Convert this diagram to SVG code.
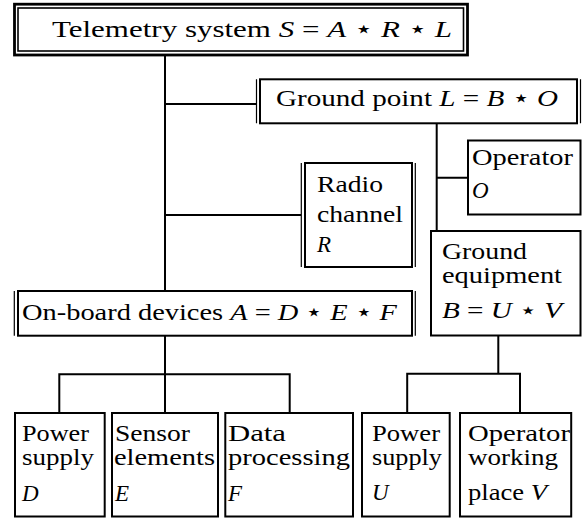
<svg xmlns="http://www.w3.org/2000/svg" width="587" height="518" viewBox="0 0 587 518">
<style>
.box{fill:#fff;stroke:#000;stroke-width:2}
.thin{stroke:#000;stroke-width:1.2;fill:none}
.conn{stroke:#000;stroke-width:2;fill:none}
.i{font-style:italic}
</style>
<rect width="587" height="518" fill="#fff"/>
<g id="connectors">
<path class="conn" d="M165 56V291M165 104H256.5M165 215H301M436.7 123V231M436.7 177.7H468M165 336V374.3M59.3 413V374.3H289.7V413M165 374.3V413M498.3 336V373.7M407.2 413V373.7H520V413"/>
</g>
<g id="telemetry">
<rect x="14.5" y="4.2" width="453" height="50.8" fill="#fff" stroke="#000" stroke-width="2.8"/>
<rect x="18" y="8" width="445.5" height="43" fill="none" stroke="#000" stroke-width="1.6"/>
<text x="52" y="37" font-family="Liberation Serif" font-size="24" textLength="400" lengthAdjust="spacingAndGlyphs">Telemetry system <tspan class="i">S</tspan> = <tspan class="i">A</tspan> ⋆ <tspan class="i">R</tspan> ⋆ <tspan class="i">L</tspan></text>
</g>
<g id="ground-point">
<rect class="box" x="260" y="79.3" width="317" height="44"/>
<path class="thin" d="M256.5 79.3V123.3M580.5 79.3V123.3"/>
<text x="276" y="106" font-family="Liberation Serif" font-size="24" textLength="282" lengthAdjust="spacingAndGlyphs">Ground point <tspan class="i">L</tspan> = <tspan class="i">B</tspan> ⋆ <tspan class="i">O</tspan></text>
</g>
<g id="operator">
<rect class="box" x="468" y="140.5" width="112.5" height="74"/>
<text x="472" y="165" font-family="Liberation Serif" font-size="23" textLength="101" lengthAdjust="spacingAndGlyphs">Operator</text>
<text x="472" y="198" font-family="Liberation Serif" font-size="23" font-style="italic">O</text>
</g>
<g id="radio-channel">
<rect class="box" x="305" y="163" width="107" height="104"/>
<path class="thin" d="M301.3 163V267M415.3 163V267"/>
<text x="317" y="192" font-family="Liberation Serif" font-size="23" textLength="66" lengthAdjust="spacingAndGlyphs">Radio</text>
<text x="317" y="222" font-family="Liberation Serif" font-size="23" textLength="86" lengthAdjust="spacingAndGlyphs">channel</text>
<text x="317" y="252" font-family="Liberation Serif" font-size="23" font-style="italic">R</text>
</g>
<g id="ground-equipment">
<rect class="box" x="431" y="231" width="149.5" height="104.5"/>
<text x="442" y="259" font-family="Liberation Serif" font-size="23" textLength="85" lengthAdjust="spacingAndGlyphs">Ground</text>
<text x="442" y="283" font-family="Liberation Serif" font-size="23" textLength="120" lengthAdjust="spacingAndGlyphs">equipment</text>
<text x="442" y="318" font-family="Liberation Serif" font-size="23" textLength="120" lengthAdjust="spacingAndGlyphs"><tspan class="i">B</tspan> = <tspan class="i">U</tspan> ⋆ <tspan class="i">V</tspan></text>
</g>
<g id="on-board">
<rect class="box" x="18" y="291" width="394" height="44.7"/>
<path class="thin" d="M14.3 291V335.7M415.3 291V335.7"/>
<text x="22" y="320" font-family="Liberation Serif" font-size="24" textLength="375" lengthAdjust="spacingAndGlyphs">On-board devices <tspan class="i">A</tspan> = <tspan class="i">D</tspan> ⋆ <tspan class="i">E</tspan> ⋆ <tspan class="i">F</tspan></text>
</g>
<g id="power-supply-d">
<rect class="box" x="15" y="413" width="89.7" height="103.5"/>
<text x="22" y="441" font-family="Liberation Serif" font-size="23" textLength="67" lengthAdjust="spacingAndGlyphs">Power</text>
<text x="22" y="465" font-family="Liberation Serif" font-size="23" textLength="72" lengthAdjust="spacingAndGlyphs">supply</text>
<text x="22" y="501" font-family="Liberation Serif" font-size="23" font-style="italic">D</text>
</g>
<g id="sensor-elements">
<rect class="box" x="112" y="413" width="106" height="103.5"/>
<text x="115" y="441" font-family="Liberation Serif" font-size="23" textLength="75" lengthAdjust="spacingAndGlyphs">Sensor</text>
<text x="114" y="465" font-family="Liberation Serif" font-size="23" textLength="101" lengthAdjust="spacingAndGlyphs">elements</text>
<text x="115" y="501" font-family="Liberation Serif" font-size="23" font-style="italic">E</text>
</g>
<g id="data-processing">
<rect class="box" x="225.3" y="413" width="127.7" height="103.5"/>
<text x="228" y="441" font-family="Liberation Serif" font-size="23" textLength="58" lengthAdjust="spacingAndGlyphs">Data</text>
<text x="228" y="465" font-family="Liberation Serif" font-size="23" textLength="122" lengthAdjust="spacingAndGlyphs">processing</text>
<text x="228" y="501" font-family="Liberation Serif" font-size="23" font-style="italic">F</text>
</g>
<g id="power-supply-u">
<rect class="box" x="362" y="413" width="87.7" height="103.5"/>
<text x="372" y="441" font-family="Liberation Serif" font-size="23" textLength="68" lengthAdjust="spacingAndGlyphs">Power</text>
<text x="372" y="465" font-family="Liberation Serif" font-size="23" textLength="70" lengthAdjust="spacingAndGlyphs">supply</text>
<text x="372" y="500" font-family="Liberation Serif" font-size="23" font-style="italic">U</text>
</g>
<g id="operator-working-place">
<rect class="box" x="460" y="413" width="111.2" height="103.5"/>
<text x="468" y="441" font-family="Liberation Serif" font-size="23" textLength="102" lengthAdjust="spacingAndGlyphs">Operator</text>
<text x="468" y="465" font-family="Liberation Serif" font-size="23" textLength="90" lengthAdjust="spacingAndGlyphs">working</text>
<text x="468" y="500" font-family="Liberation Serif" font-size="23" textLength="79" lengthAdjust="spacingAndGlyphs">place <tspan class="i">V</tspan></text>
</g>
</svg>
